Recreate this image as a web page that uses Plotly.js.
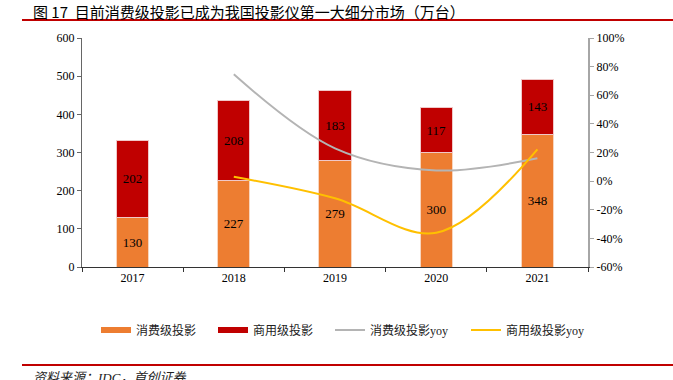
<!DOCTYPE html>
<html><head><meta charset="utf-8">
<script src="https://cdn.plot.ly/plotly-3.0.1.min.js"></script>
<style>body{margin:0;padding:0;background:#fff}#chart{width:673px;height:380px}</style>
</head><body><div id="chart"></div>
<script>
const years = ["2017","2018","2019","2020","2021"];
const consumer = [130, 227, 279, 300, 348];
const commercial = [202, 208, 183, 117, 143];
const consumerYoy = [null, 74.6, 22.9, 7.5, 16.0];
const commercialYoy = [null, 3.0, -12.0, -36.1, 22.2];
const leftTicks = [0,100,200,300,400,500,600];
const rightTicks = [-60,-40,-20,0,20,40,60,80,100];
const seriesNames = ['消费级投影','商用级投影','消费级投影yoy','商用级投影yoy'];
const seriesColors = ['#ED7D31','#C00000','#B4B4B4','#FFC000'];

const serif = "Liberation Serif, Times New Roman, serif";
const mixed = "Liberation Serif, Noto Sans CJK SC, serif";
const cjk = "Noto Sans CJK SC, sans-serif";

const traces = [
  {type:'bar', x:years, y:consumer, name:seriesNames[0], showlegend:false,
   marker:{color:seriesColors[0], line:{color:'#F8D5BE', width:1}},
   text:consumer.map(String), textposition:'inside', insidetextanchor:'middle', textangle:0,
   textfont:{family:serif, size:13, color:'#000'}, width:0.32, hoverinfo:'none'},
  {type:'bar', x:years, y:commercial, name:seriesNames[1], showlegend:false,
   marker:{color:seriesColors[1], line:{color:'#F0C8C8', width:1}},
   text:commercial.map(String), textposition:'inside', insidetextanchor:'middle', textangle:0,
   textfont:{family:serif, size:13, color:'#000'}, width:0.32, hoverinfo:'none'},
  {type:'scatter', mode:'lines', x:years, y:consumerYoy, yaxis:'y2', name:seriesNames[2], showlegend:false,
   line:{color:seriesColors[2], width:2, shape:'spline', smoothing:1}},
  {type:'scatter', mode:'lines', x:years, y:commercialYoy, yaxis:'y2', name:seriesNames[3], showlegend:false,
   line:{color:seriesColors[3], width:2, shape:'spline', smoothing:1}}
];
const legendIds = ['legend','legend2','legend3','legend4'];
seriesNames.forEach((n,i)=>{
  traces.push({type:'scatter', mode:'lines', x:[null], y:[null], name:n, showlegend:true,
    legend:legendIds[i], line:{color:seriesColors[i], width: i<2 ? 6 : 2}});
});

const plotW = 673-82-85, plotH = 380-38-113;
function px(x){return (x-82)/plotW;}
function py(y){return (380-113-y)/plotH;}

const layout = {
  width:673, height:380,
  margin:{l:82, r:85, t:38, b:113},
  paper_bgcolor:'#fff', plot_bgcolor:'#fff',
  font:{family:serif, size:12, color:'#000'},
  barmode:'stack',
  showlegend:true,
  xaxis:{type:'category', showgrid:false, showline:true, linecolor:'#333', linewidth:1,
    ticks:'outside', tickson:'boundaries', ticklen:4, tickcolor:'#333',
    tickfont:{family:serif, size:12, color:'#000'}, zeroline:false},
  yaxis:{range:[0,600], tickvals:leftTicks, showgrid:false, zeroline:false, showline:true,
    linecolor:'#666', linewidth:1, ticks:'outside', ticklen:4, tickcolor:'#666',
    tickfont:{family:serif, size:12, color:'#000'}},
  yaxis2:{overlaying:'y', side:'right', range:[-60,100], tickvals:rightTicks,
    ticktext:rightTicks.map(v=>v+'%'), showgrid:false, zeroline:false, showline:true,
    linecolor:'#A6A6A6', linewidth:2, ticks:'outside', ticklen:4, tickcolor:'#A6A6A6',
    tickfont:{family:serif, size:12, color:'#000'}},
  annotations:[
    {xref:'paper', yref:'paper', x:px(31), y:py(11), xanchor:'left', yanchor:'middle',
     text:'图 17  目前消费级投影已成为我国投影仪第一大细分市场（万台）', showarrow:false,
     font:{family:cjk, size:15, color:'#000'}},
    {xref:'paper', yref:'paper', x:px(31), y:py(377), xanchor:'left', yanchor:'middle',
     text:'<i>资料来源：IDC，首创证券</i>', showarrow:false, font:{family:mixed, size:13, color:'#222'}}
  ],
  shapes:[
    {type:'line', xref:'paper', yref:'paper', x0:px(22), x1:px(673), y0:py(20), y1:py(20), line:{color:'#C00000', width:2}},
    {type:'line', xref:'paper', yref:'paper', x0:px(22), x1:px(673), y0:py(365), y1:py(365), line:{color:'#C00000', width:2}}
  ]
};
const swatchStarts = [102, 219, 336, 472];
legendIds.forEach((id,i)=>{
  layout[id] = {orientation:'h', x:px(swatchStarts[i]-6), xanchor:'left', y:py(330), yanchor:'middle',
    font:{family:mixed, size:12, color:'#222'}, itemwidth:30, bgcolor:'rgba(0,0,0,0)'};
});

Plotly.newPlot('chart', traces, layout, {displayModeBar:false, staticPlot:true});
</script></body></html>
